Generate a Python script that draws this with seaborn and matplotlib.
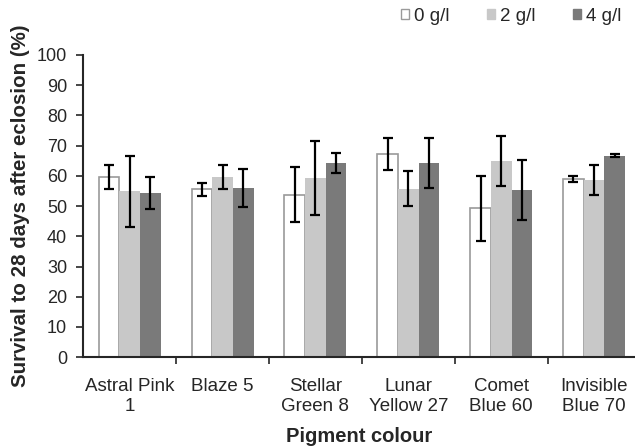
import matplotlib
matplotlib.use("Agg")
import matplotlib.pyplot as plt
import seaborn as sns
import pandas as pd
import numpy as np
from matplotlib.patches import Patch

pigments = ["Astral Pink\n1", "Blaze 5", "Stellar\nGreen 8", "Lunar\nYellow 27",
            "Comet\nBlue 60", "Invisible\nBlue 70"]
doses = ["0 g/l", "2 g/l", "4 g/l"]
surv_0 = [59.5, 55.5, 53.8, 67.3, 49.2, 58.9]
surv_2 = [54.9, 59.7, 59.3, 55.8, 65.0, 58.6]
surv_4 = [54.2, 56.0, 64.3, 64.3, 55.3, 66.7]
err_0 = [4.0, 2.2, 9.0, 5.3, 10.7, 1.0]
err_2 = [11.7, 4.0, 12.2, 5.7, 8.3, 5.0]
err_4 = [5.3, 6.3, 3.3, 8.2, 9.8, 0.6]

df = pd.DataFrame({
    "pigment": pigments * 3,
    "dose": [d for d in doses for _ in pigments],
    "survival": surv_0 + surv_2 + surv_4,
    "err": err_0 + err_2 + err_4,
})

sns.set_style("ticks")
plt.rcParams["font.family"] = ["Liberation Sans", "DejaVu Sans"]

fig = plt.figure(figsize=(6.35, 4.47), dpi=100)
ax = fig.add_axes([0.131, 0.201, 0.869, 0.676])

colors = ["#ffffff", "#c8c8c8", "#7a7a7a"]
sns.barplot(data=df, x="pigment", y="survival", hue="dose", hue_order=doses,
            order=pigments, palette=colors, errorbar=None, width=0.667,
            saturation=1, ax=ax, legend=False)

# outline only on the white bars, add error bars at bar centres
bar_groups = list(ax.containers)
for i, cont in enumerate(bar_groups):
    errs = df[df["dose"] == doses[i]].set_index("pigment").loc[pigments, "err"].values
    xs, ys = [], []
    for bar in cont:
        if i == 0:
            bar.set_edgecolor("#9a9a9a")
            bar.set_linewidth(1.2)
        else:
            bar.set_edgecolor("none")
        xs.append(bar.get_x() + bar.get_width() / 2)
        ys.append(bar.get_height())
    ax.errorbar(xs, ys, yerr=errs, fmt="none", ecolor="black", elinewidth=1.6,
                capsize=3.6, capthick=1.6)

ax.set_ylim(0, 100)
ax.set_yticks(np.arange(0, 101, 10))
ax.set_xlim(-0.5, 5.44)
ax.set_xticks(np.arange(0.5, 5.5, 1))
ax.set_xticklabels([])
ax.set_xticks(np.arange(0, 6), labels=pigments, minor=True)
ax.tick_params(axis="x", which="minor", length=0, labelsize=13.5, pad=15)
ax.tick_params(axis="x", which="major", length=5, width=1.2, direction="out")
ax.tick_params(axis="y", labelsize=13, length=5, width=1.2, direction="out", pad=6.5)

for s in ["top", "right"]:
    ax.spines[s].set_visible(False)
ax.spines["left"].set_linewidth(1.5)
ax.spines["bottom"].set_linewidth(1.5)

ax.set_ylabel("Survival to 28 days after eclosion (%)", fontsize=14.8, fontweight="bold",
              labelpad=5)
ax.set_xlabel("Pigment colour", fontsize=14.5, fontweight="bold", labelpad=9)

handles = [Patch(facecolor=c, edgecolor=("#9a9a9a" if c == "#ffffff" else c), linewidth=1)
           for c in colors]
fig.legend(handles, doses, loc="upper right", bbox_to_anchor=(1.005, 1.02), ncol=3,
           frameon=False, fontsize=13.5, handlelength=0.45, handleheight=0.45,
           handletextpad=0.25, columnspacing=2.0)

fig.savefig("out.png", dpi=100)
